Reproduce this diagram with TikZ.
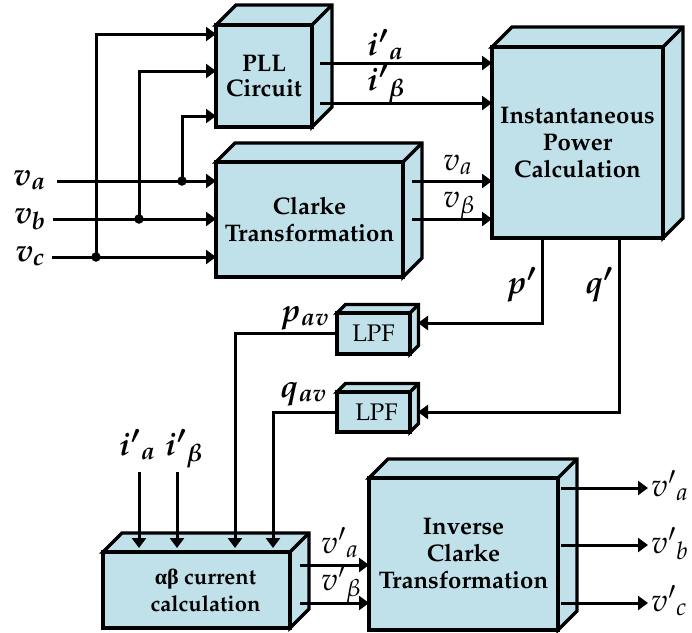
\documentclass[tikz,border=0pt]{standalone}
\usepackage[no-math]{fontspec}
\newfontfamily\grkfont{Liberation Serif}
\usepackage[T1]{fontenc}
\usepackage{mathpazo}
\usetikzlibrary{arrows.meta}
\definecolor{boxblue}{RGB}{192,225,233}
\pgfdeclarelayer{bg}
\pgfsetlayers{bg,main}
\newcommand\bmath[1]{{\boldmath$#1$}}
\tikzset{
  blk/.style={draw, fill=boxblue, line width=3.4pt, inner sep=0pt, outer sep=0pt,
    align=center, font=\bfseries\fontsize{24}{27}\selectfont},
  face/.style={draw, fill=boxblue, line width=3.4pt},
  conn/.style={line width=3pt, -{Triangle[length=10pt,width=14pt]}},
  dot/.style={circle, fill, inner sep=0pt, minimum size=9.5pt},
  lab/.style={inner sep=0pt, font=\fontsize{32}{36}\selectfont},
}
\newcommand\cubefaces[2]{%
  \begin{pgfonlayer}{bg}
  \draw[face] (#1.north west) -- ++(#2,-#2) -- ([shift={(#2,-#2)}]#1.north east)
     -- ([shift={(#2,-#2)}]#1.south east) -- (#1.south east) -- (#1.north east) -- cycle;
  \draw[face] (#1.north east) -- ++(#2,-#2);
  \end{pgfonlayer}}
\begin{document}
\begin{tikzpicture}[x=1pt,y=-1pt]
\useasboundingbox (0,0) rectangle (692,632);
% blocks
\node[blk, minimum width=96pt, minimum height=102pt] (pll) at (264,76) {PLL\\[-2pt]Circuit};
\node[blk, minimum width=187pt, minimum height=115pt] (clarke) at (309.5,219.5) {Clarke\\Transformation};
\node[blk, minimum width=171pt, minimum height=191pt] (power) at (577.5,142.5) {Instantaneous\\Power\\Calculation};
\node[blk, minimum width=73pt, minimum height=41pt, font=\mdseries\fontsize{24}{27}\selectfont] (lpf1) at (373.5,333.5) {LPF};
\node[blk, minimum width=73pt, minimum height=40pt, font=\mdseries\fontsize{24}{27}\selectfont] (lpf2) at (373.5,412) {\hspace*{6pt}LPF};
\node[blk, minimum width=187pt, minimum height=76pt, font=\bfseries\fontsize{22}{27}\selectfont] (ab) at (196.5,590) {\hspace*{18pt}{\grkfont\bfseries αβ} current\\\hspace*{18pt}calculation};
\node[blk, minimum width=189pt, minimum height=152pt] (inv) at (463.5,554) {Inverse\\Clarke\\Transformation};
\cubefaces{pll}{20}
\cubefaces{clarke}{19}
\cubefaces{power}{20}
\cubefaces{lpf1}{8.5}
\cubefaces{lpf2}{8.5}
\cubefaces{ab}{19}
\cubefaces{inv}{19}
% input terminals
\coordinate (va0) at (57,181);
\coordinate (vb0) at (53,219);
\coordinate (vc0) at (52,257);
\node[lab, anchor=base east] (lva) at (46,185) {\bmath{v_a}};
\node[lab, anchor=base east] (lvb) at (46,223) {\bmath{v_b}};
\node[lab, anchor=base east] (lvc) at (45,261) {\bmath{v_c}};
\node[dot] (da) at (182,181) {};
\node[dot] (db) at (139,219) {};
\node[dot] (dc) at (96,257) {};
\draw[conn] (va0) -- (va0 -| clarke.west);
\draw[conn] (vb0) -- (vb0 -| clarke.west);
\draw[conn] (vc0) -- (vc0 -| clarke.west);
\coordinate (pin1) at (216,34);
\coordinate (pin2) at (216,71);
\coordinate (pin3) at (216,116);
\draw[conn] (dc.center) |- (pin1);
\draw[conn] (db.center) |- (pin2);
\draw[conn] (da.center) |- (pin3);
% PLL outputs
\coordinate (po1) at (320,63);
\coordinate (po2) at (320,103);
\draw[conn] (po1) -- (po1 -| power.west);
\draw[conn] (po2) -- (po2 -| power.west);
\node[lab, anchor=base west] (lia) at (367,55) {\bmath{i'{}_a}};
\node[lab, anchor=base west] (lib) at (367,90) {\bmath{i'{}_\beta}};
% Clarke outputs
\coordinate (co1) at (412,181);
\coordinate (co2) at (412,219);
\draw[conn] (co1) -- (co1 -| power.west);
\draw[conn] (co2) -- (co2 -| power.west);
\node[lab, anchor=base west] (lval) at (443,170) {$v_a$};
\node[lab, anchor=base west] (lvbe) at (443,207) {$v_\beta$};
% power outputs to LPFs
\coordinate (pout) at (542,238);
\coordinate (qout) at (619,238);
\coordinate (l1in) at (418,323);
\coordinate (l2in) at (418,412);
\draw[conn] (pout) |- (l1in);
\draw[conn] (qout) |- (l2in);
\node[lab, anchor=base west] (lp) at (506,293) {\bmath{p'}};
\node[lab, anchor=base west] (lq) at (585,293) {\bmath{q'}};
% LPF outputs to alpha-beta block
\coordinate (pav) at (235,548);
\coordinate (qav) at (273,548);
\draw[conn] (lpf1.west) -| (pav);
\draw[conn] (lpf2.west) -| (qav);
\node[lab, anchor=base west] (lpav) at (280,321) {\bmath{p_{av}}};
\node[lab, anchor=base west] (lqav) at (280,397) {\bmath{q_{av}}};
% current references
\coordinate (ia0) at (139,472);
\coordinate (ib0) at (177,472);
\coordinate (ia1) at (139,548);
\coordinate (ib1) at (177,548);
\draw[conn] (ia0) -- (ia1);
\draw[conn] (ib0) -- (ib1);
\node[lab, anchor=base west] (lia2) at (119,455) {\bmath{i'{}_a}};
\node[lab, anchor=base west] (lib2) at (165,455) {\bmath{i'{}_\beta}};
% alpha-beta outputs
\coordinate (ao1) at (300,565);
\coordinate (ao2) at (300,603);
\draw[conn] (ao1) -- (ao1 -| inv.west);
\draw[conn] (ao2) -- (ao2 -| inv.west);
\node[lab, anchor=base west] (lvpa) at (321,553) {$v'{}_a$};
\node[lab, anchor=base west] (lvpb) at (321,590) {$v'{}_\beta$};
% inverse outputs
\coordinate (io1) at (561,488);
\coordinate (io2) at (561,545);
\coordinate (io3) at (561,603);
\coordinate (oe1) at (648,488);
\coordinate (oe2) at (648,545);
\coordinate (oe3) at (648,603);
\draw[conn] (io1) -- (oe1);
\draw[conn] (io2) -- (oe2);
\draw[conn] (io3) -- (oe3);
\node[lab, anchor=base west] (lo1) at (651,496) {$v'{}_a$};
\node[lab, anchor=base west] (lo2) at (651,553) {$v'{}_b$};
\node[lab, anchor=base west] (lo3) at (651,611) {$v'{}_c$};
\end{tikzpicture}
\end{document}
